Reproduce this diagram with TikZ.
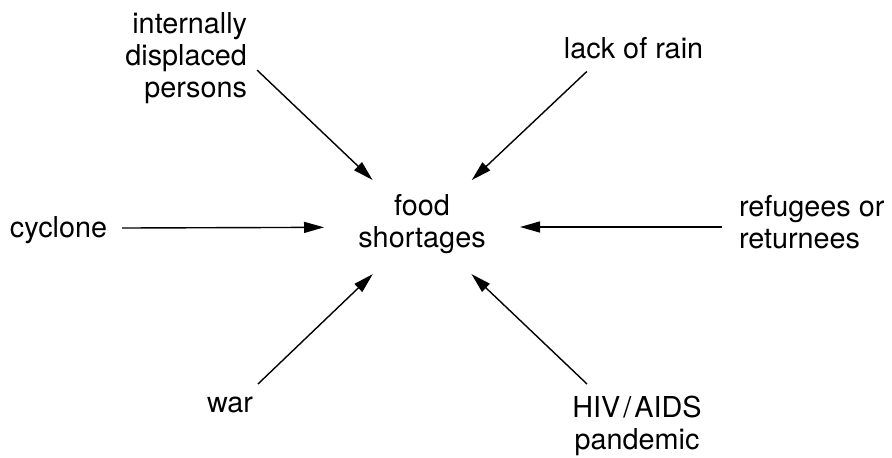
\documentclass[tikz,border=0pt]{standalone}
\usepackage{fontspec}
\setmainfont{TeX Gyre Heros}
\usetikzlibrary{arrows.meta,shapes.geometric}
\begin{document}
\begin{tikzpicture}
  [x=0.5pt,y=-0.5pt,
   factor/.style={inner sep=0,outer sep=0,font=\fontsize{14.4pt}{16pt}\selectfont},
   hub/.style={ellipse,inner sep=0,outer sep=0,align=center,
               minimum width=98pt,minimum height=54.5pt,text depth=6.5pt,
               font=\fontsize{14.4pt}{16pt}\selectfont},
   cause/.style={line width=0.7pt,-{Triangle[length=10pt,width=5.5pt]}}]
  \useasboundingbox (0,0) rectangle (892,457);
  \node[hub] (food) at (422,227) {food\\shortages};
  \node[factor,align=right,anchor=north east] (idp) at (247,12) {internally\\displaced\\persons};
  \node[factor,anchor=base] (rain) at (633.5,58) {lack of rain};
  \node[factor,anchor=base west] (cyclone) at (10,237) {cyclone};
  \node[factor,align=left,anchor=north west] (refugees) at (739,195) {refugees or\\returnees};
  \node[factor,anchor=base west] (war) at (207,412) {war};
  \node[factor,align=center,anchor=north] (hiv) at (637,396) {HIV\kern1.5pt/\kern1.5pt AIDS\\pandemic};
  \draw[cause] ([shift={(10,58)}]idp.north east) to (food);
  \draw[cause] ([shift={(23,13)}]rain.south west) to (food);
  \draw[cause] ([shift={(15,-9)}]cyclone.base east) to (food);
  \draw[cause] ([shift={(-17,32)}]refugees.north west) to (food);
  \draw[cause] ([shift={(5,-28)}]war.base east) to (food);
  \draw[cause] ([shift={(-50,-12)}]hiv.north) to (food);
\end{tikzpicture}
\end{document}
